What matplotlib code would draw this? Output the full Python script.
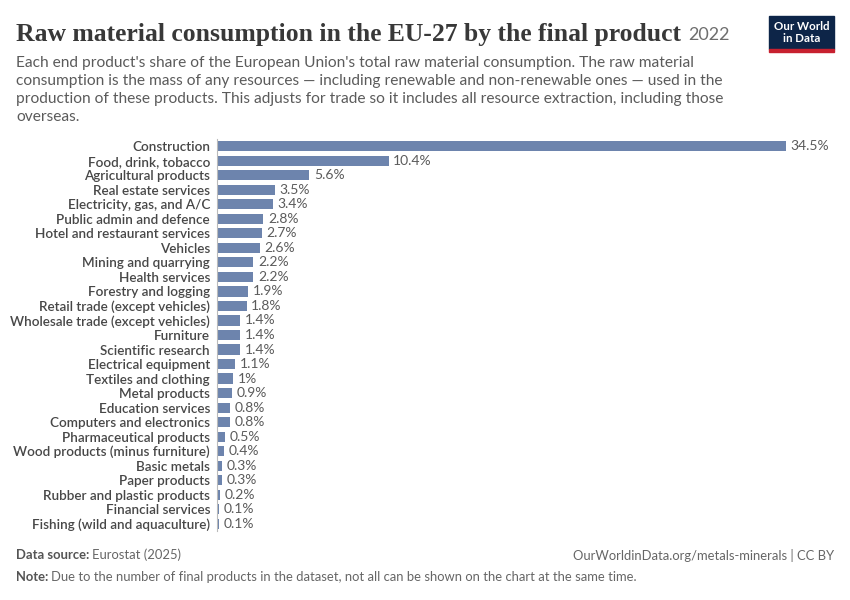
import matplotlib.pyplot as plt
from matplotlib.patches import Rectangle

# data
categories = [
    "Construction", "Food, drink, tobacco", "Agricultural products",
    "Real estate services", "Electricity, gas, and A/C",
    "Public admin and defence", "Hotel and restaurant services", "Vehicles",
    "Mining and quarrying", "Health services", "Forestry and logging",
    "Retail trade (except vehicles)", "Wholesale trade (except vehicles)",
    "Furniture", "Scientific research", "Electrical equipment",
    "Textiles and clothing", "Metal products", "Education services",
    "Computers and electronics", "Pharmaceutical products",
    "Wood products (minus furniture)", "Basic metals", "Paper products",
    "Rubber and plastic products", "Financial services",
    "Fishing (wild and aquaculture)",
]
shares = [34.5, 10.4, 5.6, 3.5, 3.4, 2.8, 2.7, 2.6, 2.2, 2.2, 1.9, 1.8, 1.4,
          1.4, 1.4, 1.1, 1.0, 0.9, 0.8, 0.8, 0.5, 0.4, 0.3, 0.3, 0.2, 0.1, 0.1]
share_labels = ["34.5%", "10.4%", "5.6%", "3.5%", "3.4%", "2.8%", "2.7%",
                "2.6%", "2.2%", "2.2%", "1.9%", "1.8%", "1.4%", "1.4%", "1.4%",
                "1.1%", "1%", "0.9%", "0.8%", "0.8%", "0.5%", "0.4%", "0.3%",
                "0.3%", "0.2%", "0.1%", "0.1%"]

W, H = 850, 600
plt.rcParams['font.family'] = ['Lato', 'DejaVu Sans']
fig = plt.figure(figsize=(W / 100, H / 100), dpi=100)
renderer = fig.canvas.get_renderer()


def put(x_px, y_px, s, **kw):
    """place text at pixel coords (from top-left), return right edge in px"""
    t = fig.text(x_px / W, 1 - y_px / H, s, **kw)
    bb = t.get_window_extent(renderer)
    return bb.x1


bar_color = '#6D84AD'
n = len(categories)
top_px, bot_px = 139, 531
x0_px, x1_px = 217, 786
ax = fig.add_axes([x0_px / W, 1 - bot_px / H, (x1_px - x0_px) / W, (bot_px - top_px) / H])
ypos = list(range(n))
ax.barh(ypos, shares, height=0.7, color=bar_color)
ax.set_xlim(0, max(shares))
ax.set_ylim(n - 0.5, -0.5)
for s in ['top', 'right', 'bottom']:
    ax.spines[s].set_visible(False)
ax.spines['left'].set_color('#BBBBBB')
ax.spines['left'].set_linewidth(0.8)
ax.set_xticks([])
ax.set_yticks(ypos)
ax.set_yticklabels(categories, fontsize=9.7, color='#474747', fontweight='semibold')
ax.tick_params(axis='y', length=0, pad=5)
for y, v, lab in zip(ypos, shares, share_labels):
    ax.text(v + 0.28, y, lab, va='center', ha='left', fontsize=10,
            color='#5B5B5B', clip_on=False)

# title, fitted to the reference width
title = "Raw material consumption in the EU-27 by the final product"
tt = fig.text(16 / W, 1 - 34 / H, title, fontsize=17,
              family=['Liberation Serif', 'DejaVu Serif'], fontweight='bold',
              color='#383838', va='center', ha='left')
w = tt.get_window_extent(renderer).width
tt.set_fontsize(17 * 667 / w)
x_end = tt.get_window_extent(renderer).x1
put(x_end + 7, 35, "2022", fontsize=13, color='#6E6E6E', va='center', ha='left')

subtitle = ("Each end product's share of the European Union's total raw material consumption. The raw material\n"
            "consumption is the mass of any resources \u2014 including renewable and non-renewable ones \u2014 used in the\n"
            "production of these products. This adjusts for trade so it includes all resource extraction, including those\n"
            "overseas.")
put(16, 55.5, subtitle, fontsize=11.2, color='#5B5B5B', va='top', ha='left',
    linespacing=1.38)

# logo
fig.patches.append(Rectangle((769 / W, 1 - 49 / H), 65 / W, 33 / H,
                             transform=fig.transFigure, color='#0D2548'))
fig.patches.append(Rectangle((769 / W, 1 - 52 / H), 65 / W, 3 / H,
                             transform=fig.transFigure, color='#C7202F'))
put(801.5, 32.5, "Our World\nin Data", fontsize=8.3, color='white',
    ha='center', va='center', linespacing=1.0, fontweight='bold')

# footer
fs = 9.4
xe = put(16, 555, "Data source:", fontsize=fs, color='#555555',
         fontweight='bold', va='center', ha='left')
put(xe + 3, 555, "Eurostat (2025)", fontsize=fs, color='#666666',
    va='center', ha='left')
put(834, 555, "OurWorldinData.org/metals-minerals | CC BY",
    fontsize=fs, color='#666666', va='center', ha='right')
xe = put(16, 577, "Note:", fontsize=fs, color='#555555',
         fontweight='bold', va='center', ha='left')
put(xe + 3, 577,
    "Due to the number of final products in the dataset, not all can be shown on the chart at the same time.",
    fontsize=fs, color='#666666', va='center', ha='left')

fig.savefig('out.png', dpi=100, facecolor='white')
